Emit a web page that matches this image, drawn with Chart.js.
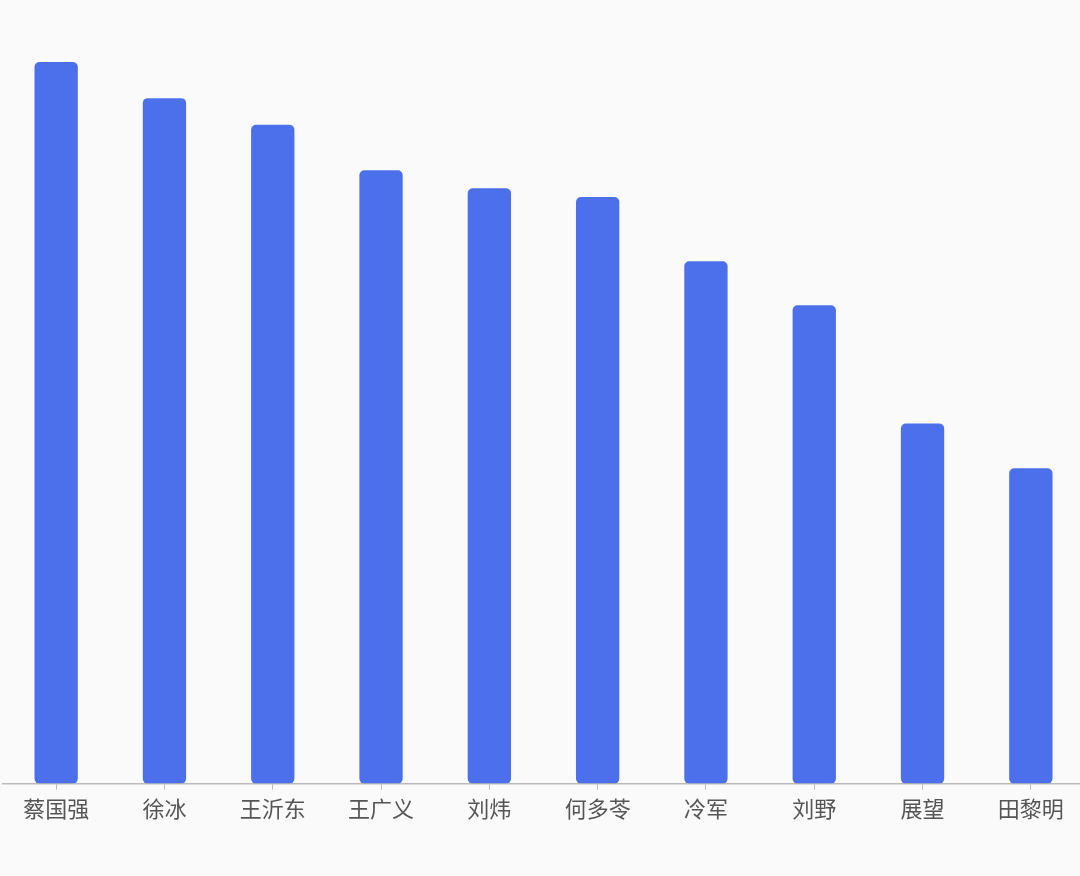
<!DOCTYPE html>
<html><head><meta charset="utf-8">
<script src="https://cdn.jsdelivr.net/npm/chart.js@4"></script>
<style>
html,body{margin:0;padding:0;background:#fafafa;overflow:hidden;width:1080px;height:876px;}
#wrap{position:absolute;left:2px;top:0;width:1083px;height:876px;}
</style></head><body>
<div id="wrap"><canvas id="c"></canvas></div>
<script>
const categories = ['蔡国强','徐冰','王沂东','王广义','刘炜','何多苓','冷军','刘野','展望','田黎明'];
const values = [100, 95.0, 91.3, 85.0, 82.5, 81.3, 72.4, 66.3, 49.9, 43.7];
const yMax = 108.6;

new Chart(document.getElementById('c'), {
  type: 'bar',
  data: { labels: categories, datasets: [{ data: values, backgroundColor: '#4c70ec', borderRadius: 5, borderSkipped: false, barPercentage: 0.4, categoryPercentage: 1.0 }] },
  options: {
    responsive: true, maintainAspectRatio: false, animation: false,
    layout: { padding: { top: 0, bottom: 48, left: 0, right: 0 } },
    plugins: { legend: { display: false }, tooltip: { enabled: false } },
    scales: {
      x: {
        grid: { offset: false, drawOnChartArea: false, drawTicks: true, tickLength: 6, color: '#bbbbbb' },
        border: { display: true, color: '#bbbbbb', width: 1.5 },
        ticks: { color: '#555555', padding: 6, font: { family: '"Noto Sans CJK SC"', size: 22 } }
      },
      y: { display: false, min: 0, max: yMax }
    }
  }
});
</script></body></html>
